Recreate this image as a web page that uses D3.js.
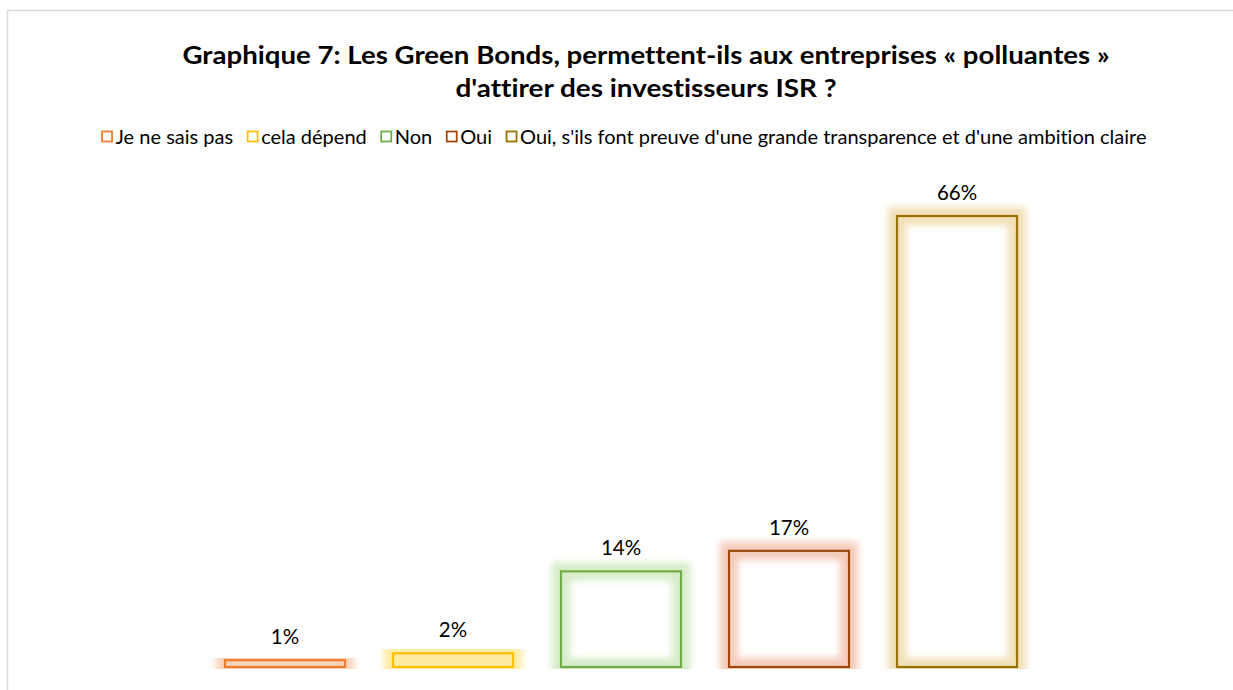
<!DOCTYPE html>
<html>
<head>
<meta charset="utf-8">
<script src="https://cdn.jsdelivr.net/npm/d3@7"></script>
<style>
  body { margin: 0; background: #fff; }
  svg { display: block; }
  text { font-variant-ligatures: none; }
</style>
</head>
<body>
<svg id="chart" width="1233" height="690"></svg>
<script>
// Survey answers and their shares
const categories = [
  "Je ne sais pas",
  "cela dépend",
  "Non",
  "Oui",
  "Oui, s'ils font preuve d'une grande transparence et d'une ambition claire"
];
const shares = [0.01, 0.02, 0.14, 0.17, 0.66];
const valueLabels = ["1%", "2%", "14%", "17%", "66%"];
const strokeColors = ["#ED7D31", "#FFC000", "#70AD47", "#9E480E", "#997300"];
const glowColors = ["#F6B48A", "#FFE066", "#BDE0A3", "#EEA88E", "#E8CB88"];
const titleLines = [
  "Graphique 7: Les Green Bonds, permettent-ils aux entreprises « polluantes »",
  "d'attirer des investisseurs ISR ?"
];

const FONT = "Lato, 'Noto Sans', sans-serif";
const svg = d3.select("#chart");

// outer chart frame
svg.append("rect")
  .attr("x", 7.5).attr("y", 10.5)
  .attr("width", 1240).attr("height", 700)
  .attr("fill", "#fff")
  .attr("stroke", "#d9d9d9").attr("stroke-width", 1.5);

// soft halo around each bar outline
const defs = svg.append("defs");
defs.append("filter").attr("id", "halo")
  .attr("x", "-30%").attr("y", "-30%").attr("width", "160%").attr("height", "160%")
  .append("feGaussianBlur").attr("stdDeviation", 3.8);
defs.append("clipPath").attr("id", "plotClip")
  .append("rect").attr("x", 0).attr("y", 0).attr("width", 1233).attr("height", 669);

// title, fitted to the width of the chart heading
const title = svg.append("g")
  .attr("font-family", FONT)
  .attr("font-weight", "bold")
  .attr("font-size", 25.5)
  .attr("fill", "#000");
const titleWidths = [927, 381];
titleLines.forEach((line, i) => {
  title.append("text")
    .attr("x", 646)
    .attr("y", 64 + i * 33)
    .attr("text-anchor", "middle")
    .attr("textLength", titleWidths[i])
    .attr("lengthAdjust", "spacingAndGlyphs")
    .text(line);
});

// scales
const x = d3.scaleBand()
  .domain(categories)
  .range([201, 1041])
  .paddingInner(0.2857)
  .paddingOuter(0.1428);
const y = d3.scaleLinear()
  .domain([0, 0.7])
  .range([667, 188.7]);

const data = categories.map((c, i) => ({
  cat: c, value: shares[i], label: valueLabels[i],
  stroke: strokeColors[i], glow: glowColors[i]
}));

const plot = svg.append("g").attr("clip-path", "url(#plotClip)");

// halo layer
plot.selectAll("rect.halo").data(data).join("rect")
  .attr("class", "halo")
  .attr("x", d => x(d.cat))
  .attr("y", d => y(d.value))
  .attr("width", x.bandwidth())
  .attr("height", d => y(0) - y(d.value))
  .attr("fill", "none")
  .attr("stroke", d => d.glow)
  .attr("stroke-width", 18)
  .attr("stroke-opacity", 0.6)
  .attr("filter", "url(#halo)");

// bar outlines
plot.selectAll("rect.bar").data(data).join("rect")
  .attr("class", "bar")
  .attr("x", d => x(d.cat))
  .attr("y", d => y(d.value))
  .attr("width", x.bandwidth())
  .attr("height", d => y(0) - y(d.value))
  .attr("fill", "none")
  .attr("stroke", d => d.stroke)
  .attr("stroke-width", 2.2);

// value labels
svg.selectAll("text.value").data(data).join("text")
  .attr("class", "value")
  .attr("x", d => x(d.cat) + x.bandwidth() / 2)
  .attr("y", d => y(d.value) - 16)
  .attr("text-anchor", "middle")
  .attr("font-family", FONT)
  .attr("font-size", 20.5)
  .attr("fill", "#000")
  .text(d => d.label);

// legend: swatch + text per answer, centred in one row
const legend = svg.append("g").attr("font-family", FONT).attr("font-size", 20);
const SW = 10, GAP_T = 4, GAP_I = 14;
let lx = 0;
data.forEach(d => {
  const g = legend.append("g").attr("transform", `translate(${lx},0)`);
  g.append("rect")
    .attr("x", 0.5).attr("y", -12.5)
    .attr("width", SW).attr("height", SW)
    .attr("fill", "#fff")
    .attr("stroke", d.stroke).attr("stroke-width", 1.8);
  const t = g.append("text").attr("x", SW + GAP_T).attr("y", 0).attr("fill", "#000").text(d.cat);
  lx += SW + GAP_T + t.node().getComputedTextLength() + GAP_I;
});
const legendWidth = lx - GAP_I;
legend.attr("transform", `translate(${624 - legendWidth / 2},144)`);
</script>
</body>
</html>
